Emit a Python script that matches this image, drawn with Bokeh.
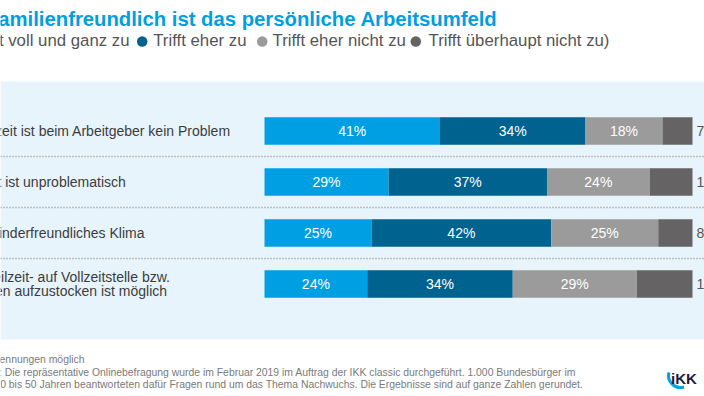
import math
from bokeh.plotting import figure
from bokeh.models import Range1d, BoxAnnotation, Span, ColumnDataSource
from bokeh.embed import file_html
from bokeh.resources import INLINE
from bokeh.core.properties import value

# ---------------- data ----------------
title = "Wie familienfreundlich ist das persönliche Arbeitsumfeld"
categories = [
    "Elternzeit ist beim Arbeitgeber kein Problem",
    "Teilzeit ist unproblematisch",
    "Sehr kinderfreundliches Klima",
    "Von Teilzeit- auf Vollzeitstelle bzw.\nStunden aufzustocken ist möglich",
]
series_names = ["Trifft voll und ganz zu", "Trifft eher zu",
                "Trifft eher nicht zu", "Trifft überhaupt nicht zu"]
voll_und_ganz = [41, 29, 25, 24]
eher = [34, 37, 42, 34]
eher_nicht = [18, 24, 25, 29]
ueberhaupt_nicht = [7, 10, 8, 13]
footer_lines = [
    "Mehrfachnennungen möglich",
    "Grundlage: Die repräsentative Onlinebefragung wurde im Februar 2019 im Auftrag der IKK classic durchgeführt. 1.000 Bundesbürger im",
    "Alter von 20 bis 50 Jahren beantworteten dafür Fragen rund um das Thema Nachwuchs. Die Ergebnisse sind auf ganze Zahlen gerundet.",
]

# ---------------- styling ----------------
colors = ["#009fe3", "#00628f", "#9b9b9b", "#656364"]
FONT = "Liberation Sans"
W, H = 704, 396
PX_PER_PCT = 4.28
X0_PX = 264
ROW0_PX = 130.5
ROW_STEP = 51.0


def X(px):
    return (px - X0_PX) / PX_PER_PCT


def Y(px):
    return (px - ROW0_PX) / ROW_STEP


p = figure(width=W, height=H, x_range=Range1d(X(0), X(W)), y_range=Range1d(Y(H), Y(0)),
           output_backend="svg", toolbar_location=None, min_border=0,
           x_axis_location=None, y_axis_location=None,
           outline_line_color=None, background_fill_color="white",
           border_fill_color="white")
p.grid.visible = False

# light-blue panel
p.add_layout(BoxAnnotation(top=Y(81), bottom=Y(339), fill_color="#e8f4fc",
                           fill_alpha=1, line_color=None, level="underlay"))

# dotted separators
rows = list(range(len(categories)))
for r in rows[:-1]:
    p.add_layout(Span(location=r + 0.5, dimension="width", line_color="#8c8c8c",
                      line_width=1.3, line_dash="1 2"))

# stacked bars
series = [voll_und_ganz, eher, eher_nicht, ueberhaupt_nicht]
lefts = [0] * len(rows)
for k, vals in enumerate(series):
    rights = [l + v for l, v in zip(lefts, vals)]
    src = ColumnDataSource(dict(y=rows, left=lefts, right=rights,
                                mid=[(l + r) / 2 for l, r in zip(lefts, rights)],
                                lab=[f"{v}%" for v in vals]))
    p.hbar(y="y", left="left", right="right", height=0.54, source=src,
           fill_color=colors[k], line_color=None)
    if k < 3:
        p.text(x="mid", y="y", text="lab", source=src, text_color="white",
               text_font=value(FONT), text_font_size="14px",
               text_align="center", text_baseline="middle")
    lefts = rights

# values to the right of the bars
p.text(x=[X(696)] * len(rows), y=rows, text=[f"{v}%" for v in ueberhaupt_nicht],
       text_color="#555555", text_font=value(FONT), text_font_size="14px",
       text_align="left", text_baseline="middle")

# category labels
p.text(x=[X(-42)] * len(rows), y=rows, text=categories, text_color="#3c3c3c",
       text_font=value(FONT), text_font_size="14px", text_align="left",
       text_baseline="middle", text_line_height=0.92)

# title
p.text(x=[X(497)], y=[Y(18)], text=[title], text_color="#009fe0",
       text_font=value(FONT), text_font_size="20.3px", text_font_style="bold",
       text_align="right", text_baseline="middle")

# subtitle legend
sub_y = Y(40)
SUB_FS = "16.8px"
p.text(x=[X(129)], y=[sub_y], text=["(\u2009\u2003\u2009" + series_names[0]],
       text_color="#555555", text_font=value(FONT), text_font_size=SUB_FS,
       text_align="right", text_baseline="middle")
p.text(x=[X(152.7), X(272)], y=[sub_y, sub_y], text=series_names[1:3],
       text_color="#555555", text_font=value(FONT), text_font_size=SUB_FS,
       text_align="left", text_baseline="middle")
p.text(x=[X(428)], y=[sub_y], text=[series_names[3] + ")"],
       text_color="#555555", text_font=value(FONT), text_font_size=SUB_FS,
       text_align="left", text_baseline="middle")
p.scatter(x=[X(-37), X(141.7), X(261.7), X(415.3)], y=[Y(41)] * 4, size=10.5,
          marker="circle", fill_color=colors, line_color=None)

# footer
p.text(x=[X(-50)] * 3, y=[Y(359), Y(372), Y(384)], text=footer_lines,
       text_color="#7a7a7a", text_font=value(FONT), text_font_size="10.4px",
       text_align="left", text_baseline="middle")

# logo (angles mirrored because the y range is inverted)
p.arc(x=[X(680)], y=[Y(375)], radius=12, radius_units="screen",
      start_angle=math.radians(-195), end_angle=math.radians(-73), direction="anticlock",
      line_color="#0aa0e0", line_width=3)
p.text(x=[X(670.5)], y=[Y(378)], text=["iKK"], text_color="#1d1d3f",
       text_font=value(FONT), text_font_size="15px", text_font_style="bold",
       text_align="left", text_baseline="middle")

html = file_html(p, INLINE)
html = html.replace("<head>", "<head><style>html,body{margin:0;padding:0;overflow:hidden;}</style>", 1)
open("out.html", "w").write(html)
